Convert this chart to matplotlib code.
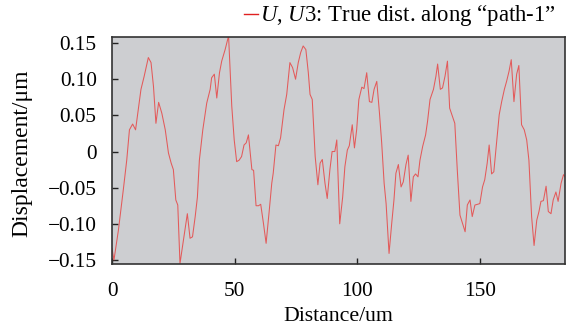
import matplotlib
matplotlib.use("Agg")
import matplotlib.pyplot as plt
from matplotlib.lines import Line2D
from matplotlib.ticker import FixedLocator, FixedFormatter

distance = [0, 0.8, 2.6, 4.6, 6.0, 7.1, 8.4, 9.6, 10.7, 11.8, 13.1, 14.8, 15.9, 16.9, 17.9,
            19.0, 20.3, 21.7, 23.0, 24.1, 25.0, 26.0, 26.8, 27.7, 29.1, 30.7, 31.8, 32.8, 33.9,
            34.8, 35.6, 37.0, 38.6, 40.0, 40.6, 41.7, 42.7, 43.8, 44.7, 46.1, 47.5, 48.8, 49.8,
            50.8, 51.8, 52.8, 53.8, 54.7, 55.6, 57.0, 57.7, 58.7, 59.7, 60.6, 61.7, 62.8, 64.1,
            65.1, 65.7, 66.8, 67.8, 68.7, 70.1, 71.2, 72.5, 73.6, 74.8, 75.9, 76.9, 77.9, 79.0,
            80.0, 80.7, 81.6, 82.8, 83.9, 84.8, 85.7, 86.8, 87.7, 88.8, 89.7, 90.8, 91.6, 92.8,
            94.0, 94.9, 95.9, 96.7, 97.9, 98.8, 99.7, 100.6, 101.8, 102.7, 103.8, 104.9, 105.9,
            106.8, 107.9, 109.0, 109.9, 110.9, 111.7, 112.9, 114.0, 114.9, 115.7, 116.7, 117.8,
            118.7, 119.8, 120.7, 121.8, 122.8, 123.7, 124.7, 125.5, 126.6, 127.8, 128.6, 129.6,
            131.0, 132.0, 132.7, 133.8, 134.7, 135.7, 136.7, 137.6, 138.8, 139.7, 140.7, 141.8,
            142.8, 143.9, 144.8, 145.9, 146.8, 147.9, 149.0, 149.9, 151.0, 151.9, 152.9, 153.7,
            154.7, 155.6, 156.7, 157.8, 158.8, 159.9, 160.8, 161.8, 162.7, 163.8, 164.9, 165.8,
            166.9, 168.0, 169.0, 169.9, 171.0, 172.0, 173.1, 174.0, 174.8, 175.8, 176.9, 177.8,
            178.9, 179.8, 180.9, 181.8, 183.0, 184.0, 184.6]

displacement = [-0.134, -0.150, -0.109, -0.053, -0.012, 0.030, 0.038, 0.030, 0.058, 0.086, 0.104,
                0.130, 0.123, 0.090, 0.039, 0.068, 0.053, 0.030, -0.002, -0.016, -0.025, -0.067,
                -0.074, -0.155, -0.123, -0.086, -0.120, -0.118, -0.090, -0.063, -0.012, 0.030,
                0.067, 0.086, 0.102, 0.107, 0.074, 0.109, 0.125, 0.141, 0.160, 0.063, 0.016,
                -0.014, -0.012, -0.007, 0.009, 0.012, 0.023, -0.025, -0.026, -0.075, -0.075,
                -0.073, -0.099, -0.127, -0.081, -0.044, -0.030, 0.009, 0.008, 0.019, 0.058,
                0.079, 0.123, 0.116, 0.100, 0.123, 0.137, 0.146, 0.141, 0.109, 0.079, 0.072,
                -0.007, -0.046, -0.016, -0.011, -0.044, -0.065, -0.025, 0.000, 0.000, 0.016,
                -0.100, -0.063, -0.021, 0.002, 0.008, 0.037, 0.005, 0.030, 0.072, 0.089, 0.087,
                0.109, 0.069, 0.068, 0.086, 0.097, 0.053, 0.012, -0.044, -0.072, -0.141, -0.099,
                -0.067, -0.030, -0.018, -0.049, -0.042, -0.018, -0.005, -0.069, -0.035, -0.031,
                -0.035, -0.012, 0.007, 0.023, 0.042, 0.072, 0.086, 0.104, 0.121, 0.086, 0.088,
                0.104, 0.125, 0.060, 0.048, 0.039, -0.025, -0.088, -0.099, -0.111, -0.074,
                -0.067, -0.090, -0.074, -0.073, -0.072, -0.049, -0.039, -0.016, 0.009, -0.031,
                -0.028, 0.012, 0.051, 0.069, 0.086, 0.097, 0.111, 0.127, 0.069, 0.107, 0.119,
                0.037, 0.030, 0.016, -0.012, -0.090, -0.130, -0.095, -0.083, -0.069, -0.068,
                -0.048, -0.083, -0.086, -0.067, -0.056, -0.069, -0.044, -0.032, -0.035]

x_ticks = [0, 50, 100, 150]
x_tick_labels = ["0", "50", "100", "150"]
y_ticks = [0.15, 0.10, 0.05, 0, -0.05, -0.10, -0.15]
y_tick_labels = ["0.15", "0.10", "0.05", "0", "\u22120.05", "\u22120.10", "\u22120.15"]
legend_label = "$U$, $U$3: True dist. along \u201cpath-1\u201d"

plt.rcParams["font.family"] = ["Liberation Serif", "DejaVu Serif"]
plt.rcParams["mathtext.fontset"] = "custom"
plt.rcParams["mathtext.it"] = "Liberation Serif:italic"
plt.rcParams["mathtext.rm"] = "Liberation Serif"

fig = plt.figure(figsize=(5.66, 3.26), dpi=100)
ax = fig.add_axes([0.1979, 0.1893, 0.8003, 0.6963])
ax.set_facecolor("#cdced1")

line, = ax.plot(distance, displacement, color="#e35a5a", lw=0.75)

ax.set_xlim(0, 184.6)
ax.set_ylim(-0.156, 0.158)
ax.xaxis.set_major_locator(FixedLocator(x_ticks))
ax.xaxis.set_major_formatter(FixedFormatter(x_tick_labels))
ax.yaxis.set_major_locator(FixedLocator(y_ticks))
ax.yaxis.set_major_formatter(FixedFormatter(y_tick_labels))
ax.tick_params(axis="both", direction="in", length=4, width=1, labelsize=15.3, color="#222222")
ax.tick_params(axis="x", pad=13)
ax.tick_params(axis="y", pad=11)
for s in ax.spines.values():
    s.set_color("#333333")
    s.set_linewidth(1.2)

ax.set_xlabel("Distance/um", fontsize=15.7)
ax.set_ylabel("Displacement/\u03bcm", fontsize=17)
ax.xaxis.set_label_coords(0.499, -0.232)
ax.xaxis.label.set_va("center")
ax.yaxis.set_label_coords(-0.199, 0.49)
ax.yaxis.label.set_va("center")

handle = Line2D([], [], color="#e02020", lw=1.0)
leg = ax.legend([handle], [legend_label], loc="center right",
                bbox_to_anchor=(0.983, 0.951), bbox_transform=fig.transFigure,
                frameon=False, fontsize=16.4, handlelength=0.6, handletextpad=0.1,
                borderpad=0, borderaxespad=0)

fig.savefig("out.png", dpi=100)
